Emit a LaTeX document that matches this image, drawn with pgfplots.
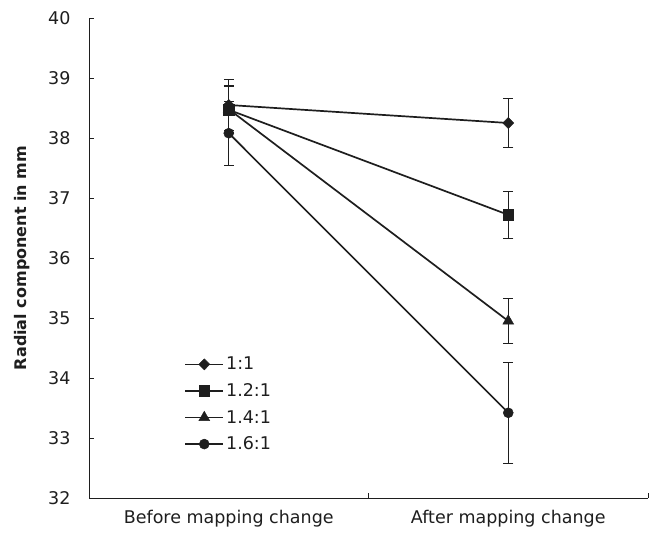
\documentclass[border=0pt]{standalone}
\usepackage{fontspec}
\setmainfont{DejaVu Sans}
\usepackage{pgfplots}
\pgfplotsset{compat=1.18}
\definecolor{ink}{HTML}{1E1E1E}
\begin{document}
\begin{tikzpicture}
\pgfplotsset{
  ser/.style={line width=1.7pt, color=ink, mark options={solid, fill=ink, line width=0.5pt},
    error bars/y dir=both, error bars/y explicit,
    error bars/error bar style={line width=0.9pt, color=ink},
    error bars/error mark options={rotate=90, mark size=5pt, line width=0.9pt, color=ink}},
}
\begin{axis}[name=ax, scale only axis, width=559pt, height=480pt,
  xmin=-0.5, xmax=1.5, ymin=32, ymax=40, ytick={32,33,...,40},
  axis x line*=bottom, axis y line*=left,
  axis line style={line width=1pt, color=ink},
  xtick={0,1}, xticklabels={Before mapping change, After mapping change},
  xtick style={draw=none},
  extra x ticks={0.5,1.5}, extra x tick labels={},
  extra x tick style={xtick style={draw=ink, line width=0.9pt}},
  ytick style={line width=0.9pt, color=ink},
  major tick length=5pt, tick align=inside,
  /pgf/number format/assume math mode=true,
  tick label style={font=\fontsize{17.5}{20}\selectfont, color=ink},
  yticklabel style={xshift=-15pt},
  xticklabel style={yshift=-9pt},
  ylabel={Radial component in mm},
  ylabel style={at={(axis description cs:-0.12,0.5)}, anchor=center, font=\fontsize{16}{19}\selectfont\bfseries, color=ink},
  legend style={draw=none, fill=none, at={(axis description cs:0.165,0.302)}, anchor=north west,
    font=\fontsize{17.5}{20}\selectfont, row sep=8.2pt, text=ink},
  legend cell align=left,
  legend image code/.code={\draw[mark repeat=2,mark phase=2,#1] plot coordinates {(0pt,0pt) (19pt,0pt) (38pt,0pt)};},
]
\addplot[ser, mark=diamond*, mark size=5.5pt, mark options={solid, fill=ink, line width=0.5pt, xscale=1.33}] coordinates {(0,38.55) +- (0,0.42) (1,38.25) +- (0,0.41)};
\addlegendentry{1:1}
\addplot[ser, mark=square*, mark size=5.2pt] coordinates {(0,38.47) +- (0,0.40) (1,36.72) +- (0,0.39)};
\addlegendentry{1.2:1}
\addplot[ser, mark=triangle*, mark size=6.2pt] coordinates {(0,38.48) +- (0,0.38) (1,34.95) +- (0,0.37)};
\addlegendentry{1.4:1}
\addplot[ser, mark=*, mark size=5pt] coordinates {(0,38.08) +- (0,0.53) (1,33.42) +- (0,0.84)};
\addlegendentry{1.6:1}
\end{axis}
\pgfresetboundingbox
\path ([shift={(-89pt,-39pt)}]ax.south west) rectangle ([shift={(4pt,18pt)}]ax.north east);
\end{tikzpicture}
\end{document}
